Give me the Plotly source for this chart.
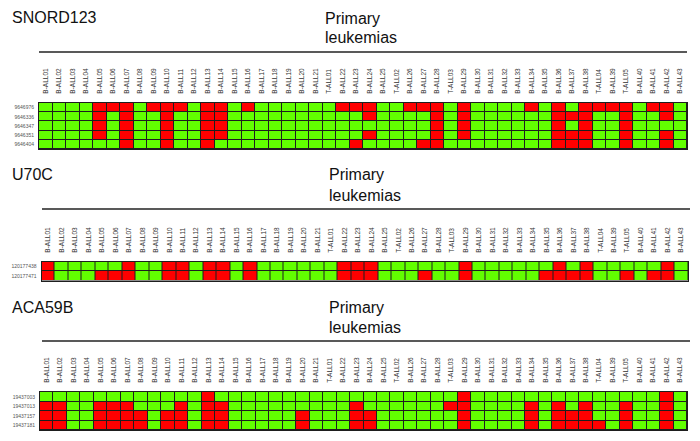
import plotly.graph_objects as go

W, H = 700, 441

samples = [
    "B-ALL01", "B-ALL02", "B-ALL03", "B-ALL04", "B-ALL05", "B-ALL06", "B-ALL07", "B-ALL08",
    "B-ALL09", "B-ALL10", "B-ALL11", "B-ALL12", "B-ALL13", "B-ALL14", "B-ALL15", "B-ALL16",
    "B-ALL17", "B-ALL18", "B-ALL19", "B-ALL20", "B-ALL21", "T-ALL01", "B-ALL22", "B-ALL23",
    "B-ALL24", "B-ALL25", "T-ALL02", "B-ALL26", "B-ALL27", "B-ALL28", "T-ALL03", "B-ALL29",
    "B-ALL30", "B-ALL31", "B-ALL32", "B-ALL33", "B-ALL34", "B-ALL35", "B-ALL36", "B-ALL37",
    "B-ALL38", "T-ALL04", "B-ALL39", "T-ALL05", "B-ALL40", "B-ALL41", "B-ALL42", "B-ALL43",
]

# 1 = red (altered), 0 = green
snord123_probes = ["9646976", "9646336", "9646347", "9646351", "9646404"]
snord123_9646976 = [0,0,0,0,1,1,1,0,1,1,1,0, 1,1,0,1,0,0,0,0,0,0,1,1, 1,0,0,1,1,1,0,1,0,0,0,0, 1,0,1,0,1,1,1,1,0,1,1,0]
snord123_9646336 = [0,0,0,0,1,0,1,0,0,1,0,0, 1,1,0,0,0,0,0,0,0,0,0,0, 1,0,0,0,0,1,0,1,0,0,0,0, 0,0,1,1,1,0,0,1,0,0,1,0]
snord123_9646347 = [0,0,0,0,1,0,1,0,0,1,0,0, 1,1,0,0,0,0,0,0,0,0,0,0, 0,0,0,0,0,1,0,1,0,0,0,0, 0,0,1,0,1,0,0,1,0,0,0,0]
snord123_9646351 = [0,0,0,0,1,0,1,0,0,1,0,0, 1,1,0,0,0,0,0,0,0,0,0,0, 1,0,0,0,0,1,0,1,0,0,0,0, 0,0,1,1,1,0,0,1,0,0,1,0]
snord123_9646404 = [0,0,0,0,0,0,1,0,0,1,0,0, 1,0,0,0,0,0,0,0,0,0,0,1, 0,0,0,0,1,1,0,0,0,0,0,0, 0,0,1,1,1,0,0,1,0,0,1,0]

u70c_probes = ["120177438", "120177471"]
u70c_120177438 = [1,0,0,0,0,0,1,0,0,1,1,0, 1,1,0,1,0,0,0,0,0,0,1,1, 1,0,0,0,0,0,0,1,0,0,0,0, 0,0,1,0,1,0,0,0,0,0,1,0]
u70c_120177471 = [1,0,0,0,1,1,1,0,0,1,1,0, 1,1,0,1,0,0,0,0,0,0,1,1, 1,0,0,0,1,0,0,1,0,0,0,0, 0,1,1,1,1,0,0,1,0,1,1,0]

aca59b_probes = ["19437003", "19437013", "19437157", "19437181"]
aca59b_19437003 = [0,0,0,0,0,0,0,0,0,0,0,0, 1,0,0,0,0,0,0,0,0,0,0,0, 0,0,0,0,0,0,0,1,0,0,0,0, 0,0,0,0,0,0,0,0,0,0,1,0]
aca59b_19437013 = [1,1,0,0,1,1,1,0,0,0,1,0, 1,1,0,0,0,0,0,0,0,0,0,1, 0,0,0,0,0,0,1,1,0,0,0,0, 1,0,1,0,1,0,0,1,0,0,1,0]
aca59b_19437157 = [1,1,0,0,1,1,1,1,0,1,1,0, 1,1,0,0,0,0,0,1,0,0,0,1, 1,0,0,0,0,0,0,1,0,0,0,0, 1,0,1,1,1,0,0,1,0,0,1,0]
aca59b_19437181 = [1,1,0,0,1,1,1,1,0,1,1,0, 1,1,0,0,0,0,0,1,0,0,0,1, 1,0,0,0,0,0,0,1,0,0,0,0, 1,0,1,1,1,1,0,1,0,0,1,0]

panel_titles = ["SNORD123", "U70C", "ACA59B"]
group_label = ["Primary", "leukemias"]

GREEN = "#62ff00"
RED = "#ff0000"
GRIDC = "#1e1e1e"
FONT = "Liberation Sans, Arial, sans-serif"

panels = [
    dict(title=panel_titles[0], probes=snord123_probes,
         z=[snord123_9646976, snord123_9646336, snord123_9646347, snord123_9646351, snord123_9646404],
         gx=(39, 687), gy=(103, 149), ty=17, px=323, py=(18, 38), line=(39, 687, 52)),
    dict(title=panel_titles[1], probes=u70c_probes,
         z=[u70c_120177438, u70c_120177471],
         gx=(41.5, 688), gy=(262, 280.5), ty=174, px=327, py=(175, 195), line=(42, 690, 209)),
    dict(title=panel_titles[2], probes=aca59b_probes,
         z=[aca59b_19437003, aca59b_19437013, aca59b_19437157, aca59b_19437181],
         gx=(40, 687), gy=(392, 430), ty=307, px=327, py=(307, 327), line=(42, 690, 341)),
]

fig = go.Figure()
annotations = []
shapes = []

def py2paper(y):
    return 1 - y / H

for i, p in enumerate(panels, start=1):
    xa = "x" if i == 1 else f"x{i}"
    ya = "y" if i == 1 else f"y{i}"
    fig.add_trace(go.Heatmap(
        x=samples, y=p["probes"], z=p["z"],
        colorscale=[[0, GREEN], [1, RED]], zmin=0, zmax=1,
        showscale=False, xgap=1, ygap=1, xaxis=xa, yaxis=ya,
        hoverinfo="skip",
    ))
    xkey = "xaxis" if i == 1 else f"xaxis{i}"
    ykey = "yaxis" if i == 1 else f"yaxis{i}"
    fig.update_layout(**{
        xkey: dict(
            domain=[p["gx"][0] / W, p["gx"][1] / W], anchor=ya, side="top",
            type="category", tickangle=-90, ticks="", showgrid=False,
            tickfont=dict(size=6.5, color="#333333", family=FONT),
            ticklabelstandoff=7, showline=True, mirror=True, automargin=False,
            linecolor=GRIDC, linewidth=1, zeroline=False, fixedrange=True,
        ),
        ykey: dict(
            domain=[py2paper(p["gy"][1]), py2paper(p["gy"][0])], anchor=xa,
            type="category", autorange="reversed", ticks="", showgrid=False,
            tickfont=dict(size=5, color="#555555", family=FONT),
            ticklabelstandoff=3, showline=True, mirror=True, automargin=False,
            linecolor=GRIDC, linewidth=1, zeroline=False, fixedrange=True,
        ),
    })
    annotations.append(dict(
        text=p["title"], x=10 / W, y=py2paper(p["ty"]), xref="paper", yref="paper",
        xanchor="left", yanchor="middle", showarrow=False,
        font=dict(size=16, color="#111111", family=FONT),
    ))
    for txt, yy in zip(group_label, p["py"]):
        annotations.append(dict(
            text=txt, x=p["px"] / W, y=py2paper(yy), xref="paper", yref="paper",
            xanchor="left", yanchor="middle", showarrow=False,
            font=dict(size=16, color="#111111", family=FONT),
        ))
    x0, x1, yl = p["line"]
    shapes.append(dict(
        type="line", xref="paper", yref="paper",
        x0=x0 / W, x1=x1 / W, y0=py2paper(yl), y1=py2paper(yl),
        line=dict(color="#222222", width=1.5),
    ))

fig.update_layout(
    width=W, height=H, margin=dict(l=0, r=0, t=0, b=0, autoexpand=False),
    paper_bgcolor="white", plot_bgcolor=GRIDC,
    annotations=annotations, shapes=shapes, showlegend=False,
    font=dict(family=FONT),
)

fig.write_html("out.html", config={"displayModeBar": False, "staticPlot": True},
               post_script="document.body.style.margin='0px';")
